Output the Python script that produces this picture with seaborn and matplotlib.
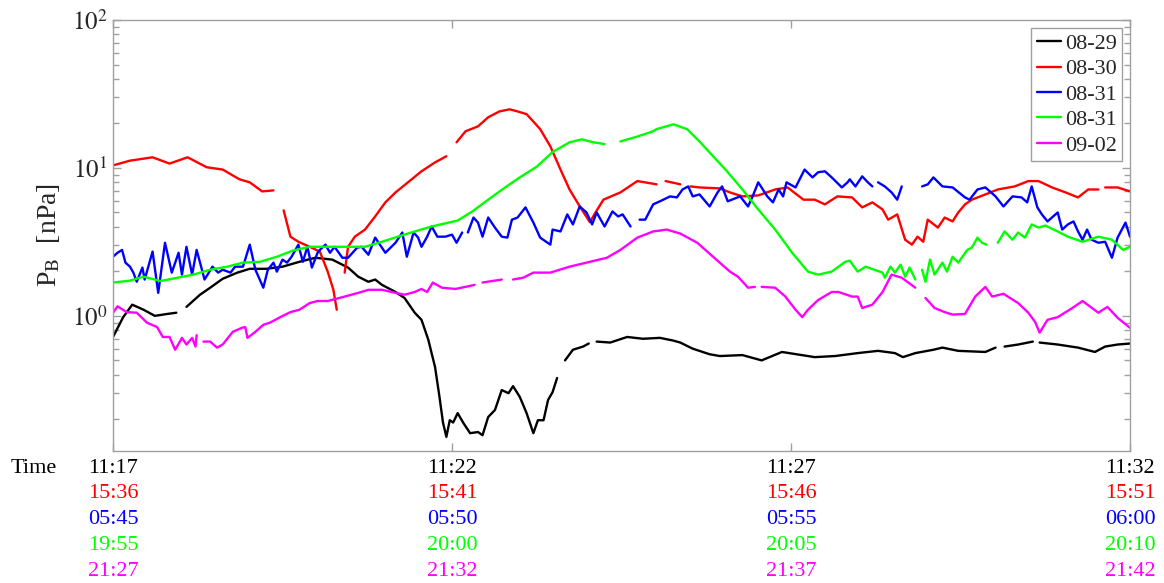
import numpy as np
import pandas as pd
import seaborn as sns
import matplotlib.pyplot as plt
from matplotlib.lines import Line2D
from matplotlib.ticker import FixedLocator, FixedFormatter, LogLocator, NullFormatter

nan = np.nan
GAP = (nan, nan)

# (secondes depuis le début de la fenêtre, P_B en nPa), GAP = trou de données
s_0829 = [(0, 0.72), (9, 0.98), (17, 1.19), (27, 1.10), (37, 1.00), (48, 1.03), (56, 1.05), GAP,
          (65, 1.15), (77, 1.39), (86, 1.55), (97, 1.78), (110, 1.96), (121, 2.08), (136, 2.08),
          (150, 2.15), (165, 2.32), (179, 2.47), (194, 2.40), (208, 2.12), (217, 1.84), (226, 1.70),
          (232, 1.76), (238, 1.62), (250, 1.45), (258, 1.32), (267, 1.05), (273, 0.94), (279, 0.69),
          (285, 0.45), (289, 0.28), (292, 0.19), (295, 0.152), (298, 0.197), (301, 0.19), (305, 0.22),
          (310, 0.189), (316, 0.161), (323, 0.164), (327, 0.156), (332, 0.207), (338, 0.231),
          (344, 0.315), (350, 0.30), (354, 0.335), (360, 0.283), (366, 0.22), (372, 0.161),
          (376, 0.197), (381, 0.197), (385, 0.27), (389, 0.305), (393, 0.38), GAP,
          (400, 0.50), (407, 0.59), (416, 0.62), (421, 0.65), GAP,
          (428, 0.67), (440, 0.66), (455, 0.72), (469, 0.70), (484, 0.71), (496, 0.68), (502, 0.66),
          (513, 0.60), (528, 0.55), (537, 0.535), (557, 0.543), (574, 0.50), (592, 0.57),
          (621, 0.526), (639, 0.535), (659, 0.56), (677, 0.58), (692, 0.56), (699, 0.526),
          (710, 0.56), (726, 0.59), (734, 0.61), (748, 0.58), (772, 0.57), (781, 0.61), GAP,
          (789, 0.62), (801, 0.64), (814, 0.67), GAP,
          (820, 0.66), (836, 0.64), (854, 0.61), (869, 0.57), (878, 0.62), (889, 0.64), (900, 0.65)]

s_0830 = [(0, 10.4), (15, 11.2), (35, 11.8), (50, 10.7), (66, 11.8), (83, 10.1), (97, 9.75),
          (112, 8.37), (121, 7.99), (132, 6.94), (142, 7.05), GAP,
          (151, 5.16), (157, 3.43), (164, 3.17), (174, 2.93), (183, 2.72), (190, 1.99), (195, 1.50),
          (198, 1.10), GAP,
          (205, 1.96), (208, 2.93), (214, 3.43), (223, 3.83), (232, 4.70), (241, 5.85), (250, 6.83),
          (261, 7.99), (273, 9.49), (285, 10.9), (295, 12.0), GAP,
          (304, 14.9), (312, 17.7), (323, 19.1), (332, 22.0), (342, 24.1), (351, 24.9), (358, 24.1),
          (366, 23.1), (378, 18.3), (387, 14.0), (396, 9.75), (404, 7.15), (413, 5.5), (422, 4.3),
          (427, 5.0), (434, 6.1), (449, 6.83), (464, 8.15), (481, 7.75), GAP,
          (489, 8.15), (502, 7.75), GAP,
          (511, 7.5), (519, 7.38), (537, 7.27), (546, 6.83), (557, 6.42), (571, 6.52), (586, 7.15),
          (597, 7.38), (611, 6.1), (621, 6.1), (630, 5.67), (641, 6.42), (654, 6.32), (663, 5.41),
          (672, 5.85), (681, 5.24), (686, 4.47), (694, 4.85), (701, 3.27), (707, 3.03), (712, 3.43),
          (717, 3.17), (721, 4.47), (730, 3.95), (736, 4.62), (743, 4.35), (748, 5.0), (754, 5.67),
          (760, 6.1), (772, 6.62), (783, 7.15), (798, 7.5), (810, 8.15), (819, 8.15), (831, 7.38),
          (843, 6.83), (854, 6.32), (863, 7.15), (872, 7.15), GAP,
          (878, 7.38), (889, 7.38), (900, 6.94)]

s_0831a = [(0, 2.51), (4, 2.67), (8, 2.79), (11, 2.29), (15, 2.15), (18, 1.96), (21, 1.70), (26, 2.12),
           (28, 1.76), (35, 2.72), (40, 1.43), (46, 3.12), (52, 1.96), (58, 2.67), (61, 1.90),
           (65, 2.93), (70, 1.90), (74, 2.79), (81, 1.76), (88, 2.15), (93, 1.96), (97, 2.05),
           (104, 1.96), (108, 2.15), (115, 2.15), (121, 3.03), (126, 2.05), (133, 1.55), (137, 2.05),
           (142, 2.29), (145, 1.99), (150, 2.40), (154, 2.29), (158, 2.51), (164, 3.03), (168, 2.32),
           (172, 2.93), (176, 2.12), (181, 2.67), (183, 2.79), (188, 3.03), (192, 2.67), (196, 2.93),
           (203, 2.47), (208, 2.47), (216, 2.89), (220, 2.93), (226, 2.59), (232, 3.38), (241, 2.67),
           (250, 3.12), (256, 3.66), (260, 2.51), (266, 3.66), (270, 3.38), (273, 2.93), (278, 3.43),
           (282, 4.02), (287, 3.43), (294, 3.43), (300, 3.54), (304, 3.12), (309, 3.66), GAP,
           (314, 3.66), (319, 4.62), (323, 4.27), (327, 3.43), (332, 4.62), (338, 3.95), (344, 3.43),
           (349, 3.38), (353, 4.47), (358, 4.62), (365, 5.41), (372, 4.27), (378, 3.38), (387, 3.03),
           (389, 3.83), (396, 3.72), (402, 4.85), (407, 4.15), (413, 5.49), (419, 5.0), (424, 4.15),
           (428, 5.0), (435, 4.02), (442, 5.08), (447, 4.70), (451, 4.85), (458, 4.02), GAP,
           (466, 4.47), (471, 4.47), (478, 5.67), (484, 5.95), (493, 6.42), (499, 6.32), (504, 7.15),
           (509, 7.5), (513, 6.42), (519, 6.62), (528, 5.49), (535, 6.83), (539, 7.5), (544, 5.95),
           (555, 6.42), (562, 5.49), (566, 6.42), (571, 7.99), (579, 6.42), (584, 5.85), (589, 7.15),
           (593, 6.42), (596, 7.99), (604, 7.38), (612, 9.75), (619, 8.63), (624, 9.35), (630, 9.49),
           (636, 8.63), (645, 7.38), (650, 7.99), (652, 8.37), (657, 7.5), (663, 8.77), (668, 7.99),
           (672, 7.5), GAP,
           (677, 7.99), (683, 7.5), (689, 6.83), (694, 6.1), (698, 7.5), GAP,
           (716, 7.5), (721, 7.74), (726, 8.63), (734, 7.5), (743, 7.38), (754, 6.32), (758, 6.1),
           (765, 7.15), (772, 7.38), (781, 6.42), (788, 5.49), (796, 6.42), (804, 6.32), (809, 5.85),
           (813, 7.5), (818, 5.41), (822, 4.85), (827, 4.35), (832, 4.70), (836, 5.0), (840, 3.83),
           (845, 4.15), (850, 4.35), (854, 3.72), (858, 3.27), (862, 3.83), (866, 3.27), (872, 3.12),
           (878, 3.17), (884, 2.47), (889, 3.38), (896, 4.27), (900, 3.43)]

s_0831b = [(0, 1.68), (15, 1.73), (27, 1.84), (42, 1.72), (57, 1.81), (71, 1.90), (86, 2.05), (101, 2.15),
           (115, 2.29), (130, 2.32), (145, 2.51), (159, 2.76), (174, 2.93), (194, 2.93), (208, 2.93),
           (223, 2.93), (238, 3.17), (252, 3.43), (267, 3.72), (282, 4.02), (305, 4.41), (318, 5.08),
           (332, 6.1), (347, 7.38), (360, 8.63), (375, 10.2), (389, 12.8), (404, 14.9), (415, 15.6),
           (425, 14.9), (435, 14.5), GAP,
           (449, 15.1), (464, 16.3), (478, 17.7), (481, 18.3), (496, 19.7), (508, 18.3), (519, 15.1),
           (531, 12.0), (542, 9.75), (557, 7.15), (571, 5.24), (586, 3.83), (601, 2.67), (615, 1.99),
           (624, 1.90), (636, 1.99), (648, 2.32), (652, 2.36), (659, 1.99), (666, 2.15), (681, 1.96),
           (683, 1.81), (688, 2.15), (692, 1.96), (697, 2.22), (701, 1.84), (705, 2.12), (710, 1.76), GAP,
           (716, 2.05), (719, 1.70), (723, 2.40), (727, 1.90), (734, 2.29), (738, 1.99), (743, 2.51),
           (748, 2.29), (756, 2.79), (760, 2.89), (765, 3.38), (769, 3.12), (773, 3.03), GAP,
           (783, 3.12), (789, 3.72), (796, 3.27), (801, 3.66), (807, 3.38), (813, 4.15), (819, 3.95),
           (825, 4.08), (836, 3.72), (845, 3.43), (858, 3.17), (872, 3.43), (884, 3.27), (894, 2.79),
           (900, 2.93)]

s_0902 = [(0, 1.05), (4, 1.16), (12, 1.06), (21, 1.05), (30, 0.90), (39, 0.84), (44, 0.72), (50, 0.72),
          (55, 0.59), (61, 0.71), (65, 0.64), (70, 0.71), (73, 0.62), (74, 0.74), GAP,
          (80, 0.67), (86, 0.67), (92, 0.61), (97, 0.64), (106, 0.78), (114, 0.83), (117, 0.84),
          (119, 0.71), (126, 0.78), (133, 0.87), (139, 0.90), (148, 0.98), (157, 1.06), (165, 1.10),
          (174, 1.22), (181, 1.26), (190, 1.26), (205, 1.35), (217, 1.43), (226, 1.50), (238, 1.50),
          (250, 1.43), (258, 1.39), (267, 1.45), (273, 1.52), (278, 1.45), (283, 1.68), (291, 1.55),
          (303, 1.52), (312, 1.57), (320, 1.62), GAP,
          (327, 1.68), (344, 1.76), GAP,
          (354, 1.76), (363, 1.81), (372, 1.96), (387, 1.96), (404, 2.15), (419, 2.29), (437, 2.47),
          (449, 2.79), (464, 3.38), (478, 3.72), (490, 3.83), (502, 3.6), (517, 3.12), (531, 2.51),
          (546, 1.99), (553, 1.84), (562, 1.55), (568, 1.57), GAP,
          (574, 1.57), (586, 1.55), (595, 1.35), (604, 1.10), (610, 0.98), (615, 1.10), (624, 1.28),
          (636, 1.45), (642, 1.45), (654, 1.35), (659, 1.35), (663, 1.13), (672, 1.19), (681, 1.45),
          (689, 1.90), (698, 1.81), (710, 1.55), GAP,
          (719, 1.32), (727, 1.13), (736, 1.06), (743, 1.02), (754, 1.03), (763, 1.35), (772, 1.57),
          (778, 1.35), (788, 1.41), (801, 1.22), (810, 1.05), (816, 0.91), (820, 0.77), (827, 0.94),
          (836, 0.98), (849, 1.13), (858, 1.26), (872, 1.05), (880, 1.15), (889, 0.97), (900, 0.83)]

series_keys = ["08-29", "08-30", "08-31a", "08-31b", "09-02"]
legend_labels = ["08-29", "08-30", "08-31", "08-31", "09-02"]
colors = ["#000000", "#ff0000", "#0000ff", "#00ff00", "#ff00ff"]

tick_sec = [0, 300, 600, 900]
time_rows = [
    ["11:17", "11:22", "11:27", "11:32"],
    ["15:36", "15:41", "15:46", "15:51"],
    ["05:45", "05:50", "05:55", "06:00"],
    ["19:55", "20:00", "20:05", "20:10"],
    ["21:27", "21:32", "21:37", "21:42"],
]

# tableau long : un "seg" par morceau continu pour couper les lignes aux trous
frames = []
for key, pts in zip(series_keys, [s_0829, s_0830, s_0831a, s_0831b, s_0902]):
    arr = np.array(pts, dtype=float)
    seg = np.cumsum(np.isnan(arr[:, 1]))
    d = pd.DataFrame({"t": arr[:, 0], "pb": arr[:, 1], "serie": key,
                      "seg": [f"{key}_{s}" for s in seg]})
    frames.append(d.dropna())
df = pd.concat(frames, ignore_index=True)

sns.set_theme(style="ticks")
plt.rcParams["font.family"] = ["Liberation Serif", "DejaVu Serif"]
plt.rcParams["mathtext.fontset"] = "stix"

fig, ax = plt.subplots(figsize=(11.64, 5.83), dpi=100)
fig.subplots_adjust(left=0.0971, right=0.9708, top=0.9657, bottom=0.2264)

sns.lineplot(data=df, x="t", y="pb", hue="serie", units="seg", estimator=None,
             hue_order=series_keys, palette=dict(zip(series_keys, colors)),
             linewidth=1.7, legend=False, sort=False, ax=ax)

ax.set_yscale("log")
ax.set_xlim(0, 900)
ax.set_ylim(0.122, 100)
ax.set_xticks(tick_sec)
ax.set_xticklabels([])
ax.yaxis.set_major_locator(FixedLocator([1, 10, 100]))
ax.yaxis.set_major_formatter(FixedFormatter([r"$10^{0}$", r"$10^{1}$", r"$10^{2}$"]))
ax.yaxis.set_minor_locator(LogLocator(base=10, subs=np.arange(2, 10)))
ax.yaxis.set_minor_formatter(NullFormatter())

grey = "#a0a0a0"
ax.tick_params(which="both", direction="in", top=True, right=True, color=grey, width=1)
ax.tick_params(which="major", length=6, labelsize=18, pad=4)
ax.tick_params(which="minor", length=4)
for sp in ax.spines.values():
    sp.set_color(grey)
    sp.set_linewidth(1)

ax.set_xlabel("")
ax.set_ylabel(r"P$_{\mathrm{B}}$  [nPa]", fontsize=20, labelpad=7)

# étiquettes de temps multi-lignes en couleur sous l'axe
row_offsets = [12.5, 30.8, 49.5, 68.2, 87.0]
for row, col, off in zip(time_rows, colors, row_offsets):
    for t, lbl in zip(tick_sec, row):
        ax.annotate(lbl, xy=(t, 0), xycoords=ax.get_xaxis_transform(),
                    xytext=(0, -off), textcoords="offset points",
                    ha="center", va="center", fontsize=16, color=col)
ax.annotate("Time", xy=(0, 0), xycoords="axes fraction", xytext=(-57, -row_offsets[0]),
            textcoords="offset points", ha="center", va="center", fontsize=16, color="black")

handles = [Line2D([], [], color=c, lw=1.7) for c in colors]
leg = ax.legend(handles, legend_labels, loc="upper right", fontsize=16, handlelength=1.1,
                handletextpad=0.15, labelspacing=0.22, borderpad=0.25, borderaxespad=0.35,
                fancybox=False, framealpha=1, edgecolor=grey)
leg.get_frame().set_linewidth(1)

fig.savefig("out.png", dpi=100)
